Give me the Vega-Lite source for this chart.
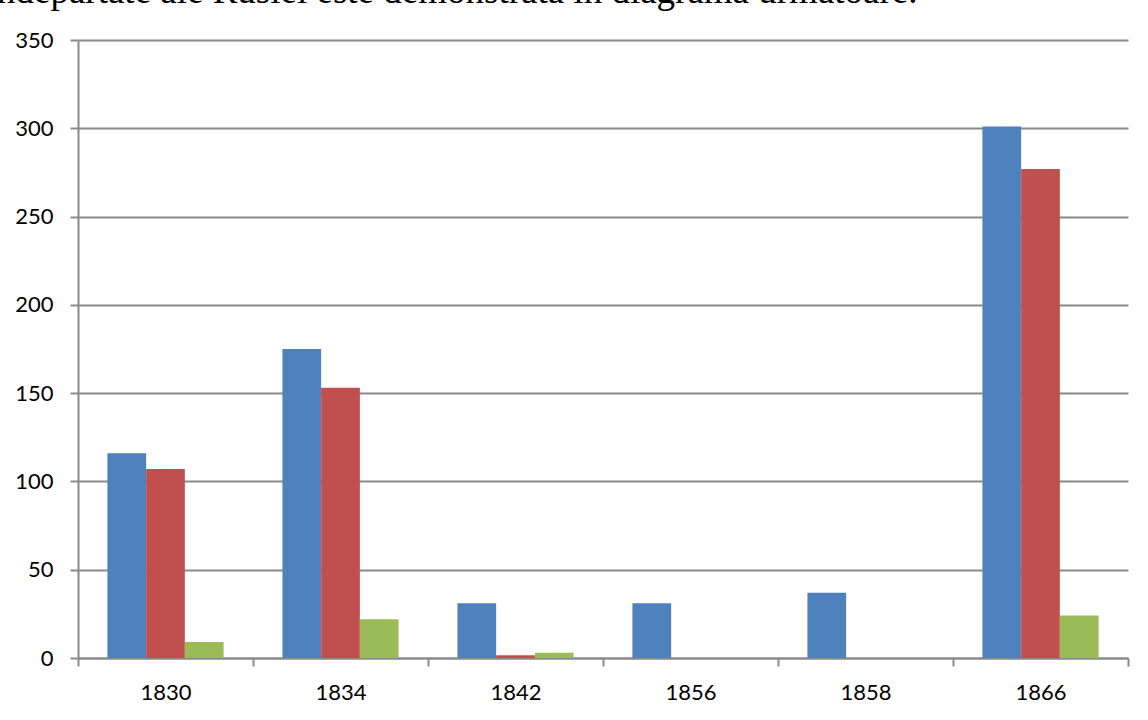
{
  "$schema": "https://vega.github.io/schema/vega-lite/v6.json",
  "width": 1050,
  "height": 618,
  "autosize": "none",
  "padding": {"left": 78, "top": 40, "right": 20, "bottom": 62},
  "background": "white",
  "title": {
    "text": "ndepărtate ale Rusiei este demonstrată în diagrama următoare.",
    "anchor": "start",
    "frame": "group",
    "dx": -81,
    "dy": 11,
    "offset": 0,
    "baseline": "alphabetic",
    "font": "Liberation Serif",
    "fontSize": 37,
    "fontWeight": "normal",
    "color": "#000000"
  },
  "data": {
    "values": [
      {"year": "1830", "series": "Seria 1", "value": 116},
      {"year": "1830", "series": "Seria 2", "value": 107},
      {"year": "1830", "series": "Seria 3", "value": 9},
      {"year": "1834", "series": "Seria 1", "value": 175},
      {"year": "1834", "series": "Seria 2", "value": 153},
      {"year": "1834", "series": "Seria 3", "value": 22},
      {"year": "1842", "series": "Seria 1", "value": 31},
      {"year": "1842", "series": "Seria 2", "value": 1.5},
      {"year": "1842", "series": "Seria 3", "value": 3},
      {"year": "1856", "series": "Seria 1", "value": 31},
      {"year": "1856", "series": "Seria 2", "value": 0},
      {"year": "1856", "series": "Seria 3", "value": 0},
      {"year": "1858", "series": "Seria 1", "value": 37},
      {"year": "1858", "series": "Seria 2", "value": 0},
      {"year": "1858", "series": "Seria 3", "value": 0},
      {"year": "1866", "series": "Seria 1", "value": 301},
      {"year": "1866", "series": "Seria 2", "value": 277},
      {"year": "1866", "series": "Seria 3", "value": 24}
    ]
  },
  "mark": {"type": "bar"},
  "encoding": {
    "x": {
      "field": "year",
      "type": "nominal",
      "scale": {"paddingInner": 0, "paddingOuter": 0},
      "axis": {
        "title": null,
        "labelAngle": 0,
        "tickBand": "extent",
        "grid": false,
        "tickSize": 8,
        "tickWidth": 2,
        "tickColor": "#8a8a8a",
        "domainColor": "#8a8a8a",
        "domainWidth": 2,
        "labelFont": "Lato",
        "labelFontSize": 22,
        "labelColor": "#000000",
        "labelPadding": 16
      }
    },
    "xOffset": {
      "field": "series",
      "scale": {"paddingInner": 0, "paddingOuter": 0.76}
    },
    "y": {
      "field": "value",
      "type": "quantitative",
      "scale": {"domain": [0, 350], "nice": false},
      "axis": {
        "title": null,
        "values": [0, 50, 100, 150, 200, 250, 300, 350],
        "grid": true,
        "gridColor": "#8a8a8a",
        "gridWidth": 2,
        "tickSize": 8,
        "tickWidth": 2,
        "tickColor": "#8a8a8a",
        "domainColor": "#8a8a8a",
        "domainWidth": 2,
        "labelFont": "Lato",
        "labelFontSize": 22,
        "labelColor": "#000000",
        "labelPadding": 17
      }
    },
    "color": {
      "field": "series",
      "type": "nominal",
      "scale": {"domain": ["Seria 1", "Seria 2", "Seria 3"], "range": ["#4F81BD", "#C0504D", "#9BBB59"]},
      "legend": null
    }
  },
  "config": {"view": {"stroke": null}}
}
